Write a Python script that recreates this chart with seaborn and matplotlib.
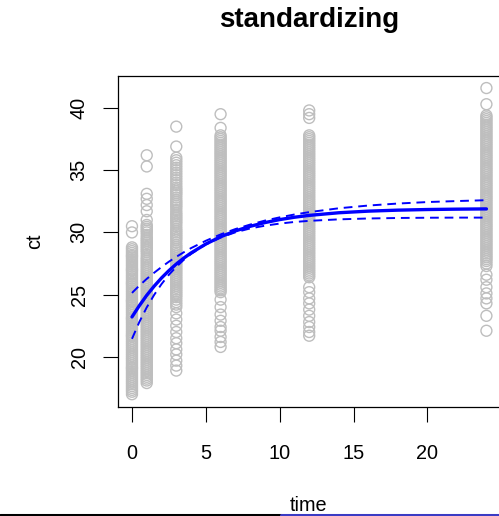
import matplotlib
matplotlib.use("Agg")
import matplotlib.pyplot as plt
from matplotlib.lines import Line2D
import seaborn as sns
import pandas as pd

# ---- data ----
times = [0, 1, 3, 6, 12, 24]
ct_t0 = [30.5, 30.0, 28.8, 28.65, 28.5, 28.35, 28.2, 28.1, 28.0, 27.85, 27.7, 27.55, 27.4, 27.25,
         27.1, 27.0, 26.9, 26.75, 26.6, 26.45, 26.3, 26.15, 26.0, 25.9, 25.8, 25.65, 25.5, 25.35,
         25.2, 25.05, 24.9, 24.75, 24.6, 24.5, 24.4, 24.25, 24.1, 23.95, 23.8, 23.65, 23.5, 23.35,
         23.2, 23.1, 23.0, 22.85, 22.7, 22.55, 22.4, 22.25, 22.1, 21.95, 21.8, 21.7, 21.6, 21.45,
         21.3, 21.15, 21.0, 20.85, 20.7, 20.55, 20.4, 20.25, 20.1, 19.95, 19.8, 19.65, 19.5, 19.35,
         19.2, 19.1, 19.0, 18.85, 18.7, 18.55, 18.4, 18.25, 18.1, 17.95, 17.8, 17.65, 17.5, 17.35,
         17.2, 17.0]
ct_t1 = [36.2, 35.3, 33.1, 32.7, 32.2, 31.7, 31.0, 30.6, 30.45, 30.3, 30.15, 30.0, 29.8, 29.6,
         29.45, 29.3, 29.15, 29.0, 28.85, 28.7, 28.55, 28.4, 28.2, 28.0, 27.85, 27.7, 27.55, 27.4,
         27.25, 27.1, 26.95, 26.8, 26.65, 26.5, 26.35, 26.2, 26.05, 25.9, 25.75, 25.6, 25.45, 25.3,
         25.15, 25.0, 24.85, 24.7, 24.55, 24.4, 24.25, 24.1, 23.95, 23.8, 23.65, 23.5, 23.35, 23.2,
         23.05, 22.9, 22.75, 22.6, 22.45, 22.3, 22.15, 22.0, 21.85, 21.7, 21.55, 21.4, 21.25, 21.1,
         20.95, 20.8, 20.65, 20.5, 20.35, 20.2, 20.05, 19.9, 19.75, 19.6, 19.45, 19.3, 19.15, 19.0,
         18.85, 18.7, 18.55, 18.4, 18.25, 18.1, 17.9]
ct_t3 = [38.5, 36.9, 36.0, 35.8, 35.6, 35.4, 35.2, 35.0, 34.8, 34.6, 34.4, 34.2, 34.0, 33.8, 33.6,
         33.45, 33.3, 33.15, 33.0, 32.8, 32.6, 32.45, 32.3, 32.15, 32.0, 31.8, 31.6, 31.45, 31.3,
         31.15, 31.0, 30.85, 30.7, 30.5, 30.3, 30.15, 30.0, 29.85, 29.7, 29.55, 29.4, 29.2, 29.0,
         28.85, 28.7, 28.55, 28.4, 28.25, 28.1, 27.95, 27.8, 27.65, 27.5, 27.35, 27.2, 27.05, 26.9,
         26.75, 26.6, 26.45, 26.3, 26.15, 26.0, 25.85, 25.7, 25.55, 25.4, 25.25, 25.1, 24.95, 24.8,
         24.6, 24.4, 24.2, 24.0, 23.5, 23.0, 22.5, 22.0, 21.5, 21.1, 20.6, 20.2, 19.7, 19.3, 18.9]
ct_t6 = [39.5, 38.4, 37.8, 37.65, 37.5, 37.35, 37.2, 37.05, 36.9, 36.75, 36.6, 36.45, 36.3, 36.15,
         36.0, 35.85, 35.7, 35.55, 35.4, 35.25, 35.1, 34.95, 34.8, 34.65, 34.5, 34.35, 34.2, 34.05,
         33.9, 33.75, 33.6, 33.45, 33.3, 33.15, 33.0, 32.85, 32.7, 32.55, 32.4, 32.25, 32.1, 31.95,
         31.8, 31.65, 31.5, 31.35, 31.2, 31.05, 30.9, 30.75, 30.6, 30.45, 30.3, 30.15, 30.0, 29.85,
         29.7, 29.55, 29.4, 29.25, 29.1, 28.95, 28.8, 28.65, 28.5, 28.35, 28.2, 28.05, 27.9, 27.75,
         27.6, 27.45, 27.3, 27.15, 27.0, 26.85, 26.7, 26.55, 26.4, 26.25, 26.1, 25.95, 25.8, 25.65,
         25.5, 25.35, 25.2, 24.6, 24.0, 23.4, 22.9, 22.4, 22.1, 21.6, 21.2, 20.8]
ct_t12 = [39.8, 39.5, 39.2, 37.8, 37.65, 37.5, 37.35, 37.2, 37.05, 36.9, 36.75, 36.6, 36.45, 36.3,
          36.15, 36.0, 35.85, 35.7, 35.55, 35.4, 35.25, 35.1, 34.95, 34.8, 34.65, 34.5, 34.35, 34.2,
          34.05, 33.9, 33.75, 33.6, 33.45, 33.3, 33.15, 33.0, 32.85, 32.7, 32.55, 32.4, 32.25, 32.1,
          31.95, 31.8, 31.65, 31.5, 31.35, 31.2, 31.05, 30.9, 30.75, 30.6, 30.45, 30.3, 30.15, 30.0,
          29.85, 29.7, 29.55, 29.4, 29.25, 29.1, 28.95, 28.8, 28.65, 28.5, 28.35, 28.2, 28.05, 27.9,
          27.75, 27.6, 27.45, 27.3, 27.15, 27.0, 26.85, 26.7, 26.55, 26.4, 25.6, 25.2, 24.7, 24.3,
          23.8, 23.3, 22.8, 22.4, 22.0, 21.7]
ct_t24 = [41.6, 40.3, 39.4, 39.25, 39.1, 38.95, 38.8, 38.65, 38.5, 38.35, 38.2, 38.05, 37.9, 37.75,
          37.6, 37.45, 37.3, 37.15, 37.0, 36.85, 36.7, 36.55, 36.4, 36.25, 36.1, 35.95, 35.8, 35.65,
          35.5, 35.35, 35.2, 35.05, 34.9, 34.75, 34.6, 34.45, 34.3, 34.15, 34.0, 33.85, 33.7, 33.55,
          33.4, 33.25, 33.1, 32.95, 32.8, 32.65, 32.5, 32.35, 32.2, 32.05, 31.9, 31.75, 31.6, 31.45,
          31.3, 31.15, 31.0, 30.85, 30.7, 30.55, 30.4, 30.25, 30.1, 29.95, 29.8, 29.65, 29.5, 29.35,
          29.2, 29.05, 28.9, 28.75, 28.6, 28.45, 28.3, 28.15, 28.0, 27.85, 27.7, 27.5, 27.3, 26.6,
          26.2, 25.6, 25.1, 24.7, 24.3, 23.3, 22.1]

curve_time = [0, 0.5, 1, 1.5, 2, 2.5, 3, 3.5, 4, 5, 6, 7, 8, 9, 10, 11, 12, 14, 16, 18, 20, 22, 24]
fit_mid = [23.21, 24.12, 24.95, 25.68, 26.34, 26.93, 27.46, 27.93, 28.35, 29.07, 29.65, 30.12,
           30.49, 30.79, 31.03, 31.22, 31.37, 31.58, 31.71, 31.79, 31.84, 31.87, 31.89]
fit_upper = [25.14, 25.73, 26.27, 26.76, 27.22, 27.65, 28.04, 28.40, 28.74, 29.33, 29.84, 30.27,
             30.63, 30.95, 31.21, 31.44, 31.63, 31.94, 32.16, 32.32, 32.44, 32.52, 32.59]
fit_lower = [21.45, 22.81, 23.98, 24.98, 25.85, 26.60, 27.23, 27.79, 28.27, 29.03, 29.59, 30.01,
             30.32, 30.54, 30.71, 30.84, 30.93, 31.05, 31.12, 31.16, 31.18, 31.19, 31.19]

xticks = [0, 5, 10, 15, 20]
yticks = [20, 25, 30, 35, 40]

# ---- tables ----
groups = [ct_t0, ct_t1, ct_t3, ct_t6, ct_t12, ct_t24]
pts = pd.DataFrame({
    "time": [t for t, g in zip(times, groups) for _ in g],
    "ct": [v for g in groups for v in g],
})
curves = pd.DataFrame({"time": curve_time, "mid": fit_mid, "upper": fit_upper, "lower": fit_lower})

sns.set_style("white")
plt.rcParams["font.family"] = ["Liberation Sans", "DejaVu Sans"]
plt.rcParams["text.color"] = "black"
plt.rcParams["axes.labelcolor"] = "black"

W, H = 499, 516
fig = plt.figure(figsize=(W / 100, H / 100), dpi=100)
ax = fig.add_axes([117.8 / W, 1 - 406.8 / H, (500.6 - 117.8) / W, (406.8 - 75.6) / H])

sns.scatterplot(data=pts, x="time", y="ct", ax=ax, marker="o", s=62,
                facecolors="none", edgecolor="#BEBEBE", linewidth=1.0, zorder=2)
sns.lineplot(data=curves, x="time", y="mid", ax=ax, color="#0000FF", lw=2.4, zorder=4)
sns.lineplot(data=curves, x="time", y="upper", ax=ax, color="#0000FF", lw=1.4,
             zorder=3).lines[-1].set_dashes((4.5, 3))
sns.lineplot(data=curves, x="time", y="lower", ax=ax, color="#0000FF", lw=1.4,
             zorder=3).lines[-1].set_dashes((4.5, 3))

ax.set_xlim(-0.96, 24.96)
ax.set_ylim(15.99, 42.6)
ax.set_xticks(xticks)
ax.set_yticks(yticks)
ax.set_xticklabels([str(v) for v in xticks])
ax.set_yticklabels([str(v) for v in yticks], rotation=90, va="center")
ax.tick_params(axis="both", direction="out", length=11, width=0.8, color="black",
               labelsize=14.3, labelcolor="black", bottom=True, left=True)
ax.tick_params(axis="x", pad=15.5)
ax.tick_params(axis="y", pad=10)
for side in ["left", "top", "bottom", "right"]:
    ax.spines[side].set_visible(True)
    ax.spines[side].set_color("black")
    ax.spines[side].set_linewidth(0.9)
ax.set_xlabel("")
ax.set_ylabel("")
ax.grid(False)
ax.set_facecolor("white")

fig.text(309 / W, 1 - 27 / H, "standardizing", ha="center", va="baseline",
         fontsize=20, fontweight="bold", color="black")
fig.text(35 / W, 1 - 241 / H, "ct", ha="center", va="center", rotation=90, fontsize=14.3,
         color="black")
fig.text(309 / W, 1 - 511 / H, "time", ha="center", va="baseline", fontsize=14.3, color="black")

fig.add_artist(Line2D([0, 281 / W], [1 - 514.8 / H] * 2, transform=fig.transFigure,
                      color="black", lw=2.2, zorder=10))
fig.add_artist(Line2D([281 / W, 1], [1 - 514.8 / H] * 2, transform=fig.transFigure,
                      color="#3b3bc4", lw=2.2, zorder=10))

fig.savefig("out.png", dpi=100, facecolor="white")
